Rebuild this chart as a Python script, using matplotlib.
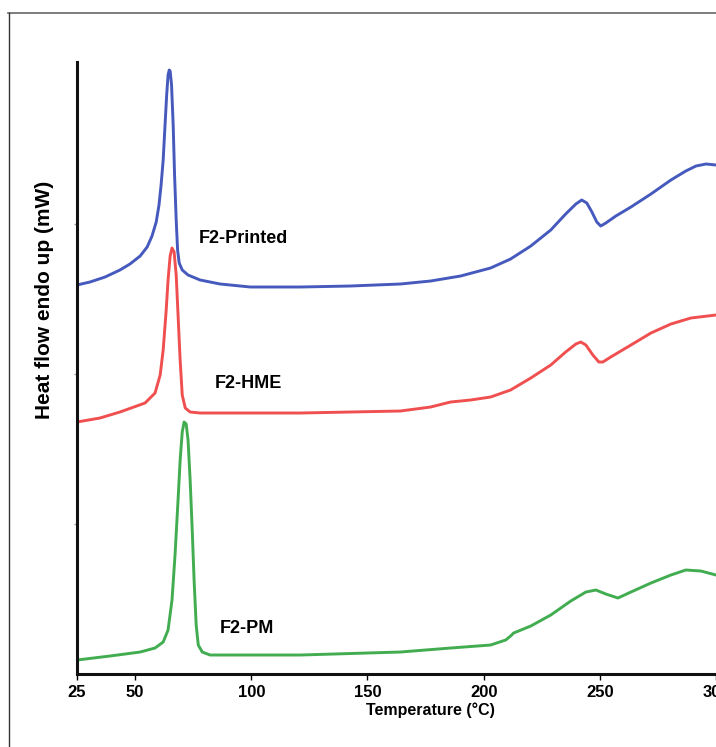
import matplotlib
matplotlib.use('Agg')
from matplotlib import pyplot as plt
from matplotlib.lines import Line2D

plt.rcParams['font.family'] = ['Liberation Sans', 'DejaVu Sans']

# DSC traces (temperature in C, heat flow in arbitrary units)
temp_printed = [25, 30.6, 37.1, 43.5, 47.8, 52.2, 55.2, 57.3, 59.1, 60.3, 61.2, 62.1, 62.9, 63.6,
                64.2, 64.7, 65.1, 65.7, 66.4, 67.0, 67.7, 68.3, 69.0, 70.3, 72.8, 78, 86.6, 99.6,
                121.1, 142.7, 164.2, 177.2, 190.1, 203, 211.6, 220.3, 228.9, 235.3, 239.7, 242.2,
                244.4, 246.6, 248.7, 250.4, 252.6, 256.9, 263.4, 272, 280.6, 287, 291.4, 295.7, 300]
flow_printed = [3.89, 3.92, 3.97, 4.04, 4.10, 4.18, 4.27, 4.38, 4.52, 4.69, 4.89, 5.14, 5.49, 5.79,
                5.99, 6.04, 6.03, 5.89, 5.49, 4.99, 4.54, 4.24, 4.11, 4.04, 3.99, 3.94, 3.90, 3.87,
                3.87, 3.88, 3.90, 3.93, 3.98, 4.06, 4.15, 4.28, 4.44, 4.60, 4.70, 4.74,
                4.71, 4.62, 4.52, 4.48, 4.51, 4.58, 4.67, 4.80, 4.94, 5.03, 5.08, 5.10, 5.09]

temp_hme = [25, 34.9, 43.5, 54.3, 58.6, 60.8, 62.1, 63.4, 64.2, 65.1, 65.9, 66.8, 67.7, 68.5,
            69.4, 70.3, 71.6, 73.7, 78, 121.1, 164.2, 177.2, 185.8, 194.4, 203, 211.6, 220.3,
            228.9, 235.3, 239.7, 241.8, 244, 247, 249.6, 251.3, 254.7, 263.4, 272, 280.6, 289.2, 300]
flow_hme = [2.52, 2.56, 2.62, 2.71, 2.81, 2.99, 3.24, 3.64, 3.94, 4.18, 4.26, 4.22, 3.99, 3.59,
            3.14, 2.79, 2.66, 2.62, 2.61, 2.61, 2.63, 2.67, 2.72, 2.74, 2.77, 2.84, 2.96,
            3.09, 3.22, 3.30, 3.32, 3.29, 3.19, 3.12, 3.12, 3.17, 3.29, 3.41, 3.50, 3.56, 3.59]

temp_pm = [25, 39.2, 52.2, 58.6, 62.1, 64.2, 65.9, 67.2, 68.5, 69.4, 70.3, 71.1, 72.0, 72.8,
           73.7, 74.6, 75.4, 76.3, 77.2, 78.9, 82.3, 121.1, 164.2, 185.8, 203, 209.5, 211.6,
           212.9, 220.3, 228.9, 237.5, 244, 248.3, 252.6, 257.8, 263.4, 272, 280.6, 287, 293.5, 300]
flow_pm = [0.14, 0.18, 0.22, 0.26, 0.32, 0.44, 0.74, 1.19, 1.74, 2.14, 2.42, 2.52, 2.50, 2.34,
           1.94, 1.44, 0.94, 0.49, 0.29, 0.22, 0.19, 0.19, 0.22, 0.26, 0.29, 0.34, 0.38,
           0.41, 0.48, 0.59, 0.73, 0.82, 0.84, 0.80, 0.76, 0.82, 0.91, 0.99, 1.04, 1.03, 0.99]

x_ticks = [25, 50, 100, 150, 200, 250, 300]

fig = plt.figure(figsize=(7.16, 7.47), dpi=100)
ax = fig.add_axes([0.1075, 0.0977, 0.8925, 0.8193])

lw = 2.1
ax.plot(temp_printed, flow_printed, color='#4659bd', lw=lw, solid_joinstyle='round')
ax.plot(temp_hme, flow_hme, color='#f04f4f', lw=lw, solid_joinstyle='round')
ax.plot(temp_pm, flow_pm, color='#41ad50', lw=lw, solid_joinstyle='round')

lab = dict(fontsize=13, fontweight='bold', ha='center', va='center')
ax.text(96.6, 4.36, 'F2-Printed', **lab)
ax.text(98.7, 2.91, 'F2-HME', **lab)
ax.text(98.3, 0.46, 'F2-PM', **lab)

ax.set_xlim(25, 300)
ax.set_ylim(0, 6.12)
ax.set_xticks(x_ticks)
ax.set_xticklabels([str(t) for t in x_ticks], fontsize=12, fontweight='bold')
ax.set_yticks([1.5, 3.0, 4.5])
ax.set_yticklabels([])
ax.tick_params(axis='x', direction='out', length=4, width=1, pad=4)
ax.tick_params(axis='y', direction='out', length=2, width=1, color='#999999')

for s in ['top', 'right']:
    ax.spines[s].set_visible(False)
for s in ['left', 'bottom']:
    ax.spines[s].set_linewidth(2.2)
    ax.spines[s].set_color('#111111')

fig.text(430 / 716, 1 - 710 / 747, 'Temperature (°C)', fontsize=11.5, fontweight='bold',
         ha='center', va='center')
fig.text(45 / 716, 1 - 300 / 747, 'Heat flow endo up (mW)', fontsize=15, fontweight='bold',
         rotation=90, ha='center', va='center')

# outer frame of the original panel
fig.add_artist(Line2D([8 / 716, 1], [1 - 13 / 747, 1 - 13 / 747], color='#666666', lw=1.2))
fig.add_artist(Line2D([9 / 716, 9 / 716], [0, 1 - 13 / 747], color='#333333', lw=1.0))

fig.savefig('out.png', dpi=100)
